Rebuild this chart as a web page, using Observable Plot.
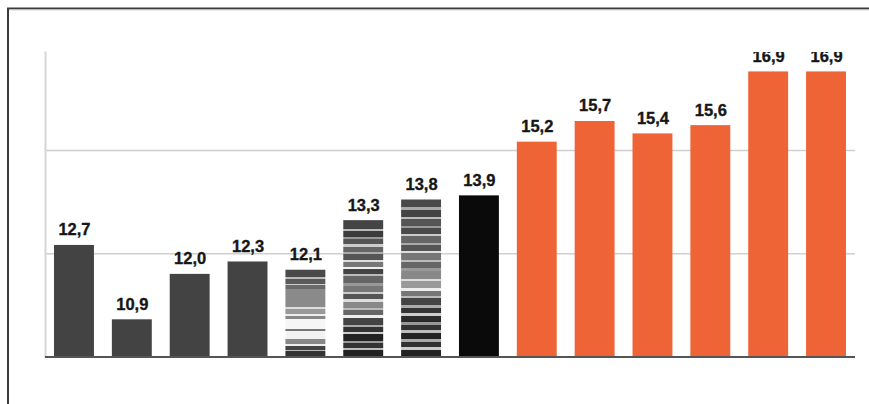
<!DOCTYPE html>
<html>
<head>
<meta charset="utf-8">
<script src="https://cdn.jsdelivr.net/npm/d3@7"></script>
<script src="https://cdn.jsdelivr.net/npm/@observablehq/plot@0.6"></script>
<style>
  html, body { margin: 0; padding: 0; background: #fff; overflow: hidden; }
  #wrap { width: 869px; height: 404px; overflow: hidden; }
  #wrap svg { display: block; }
</style>
</head>
<body>
<div id="wrap"></div>
<script>
// ---- data ----
const categories = ["b1","b2","b3","b4","b5","b6","b7","b8","b9","b10","b11","b12","b13","b14"];
const values = [12.7, 10.9, 12.0, 12.3, 12.1, 13.3, 13.8, 13.9, 15.2, 15.7, 15.4, 15.6, 16.9, 16.9];
const groups = ["dark","dark","dark","dark","stripeA","stripeB","stripeC","black",
                "orange","orange","orange","orange","orange","orange"];
const gridValues = [12.5, 15];

const data = categories.map((c, i) => ({cat: c, value: values[i], group: groups[i]}));

// ---- styles ----
const fills = {
  dark: "#434343",
  black: "#0a0a0a",
  orange: "#ef6436",
  stripeA: "url(#stripeA)",
  stripeB: "url(#stripeB)",
  stripeC: "url(#stripeC)"
};
const stripeStyles = {
  stripeA: [["#4a4a4a",7],["#bbb",2],["#5a5a5a",5],["#ccc",1.5],["#6a6a6a",4],["#8a8a8a",17],["#ddd",2],["#999",5],["#eee",2.5],["#888",3],["#f6f6f6",10],["#777",2],["#f2f2f2",8],["#888",5],["#eee",2],["#444",3.5],["#bbb",1.5],["#333",5]],
  stripeB: [["#444",8],["#bbb",2],["#3c3c3c",6],["#999",2],["#555",5],["#ccc",2],["#666",5],["#aaa",2],["#555",6],["#ddd",2],["#777",4],["#eee",2],["#444",5],["#bbb",2],["#666",6],["#999",3],["#777",6],["#ccc",2],["#555",5],["#ddd",2],["#888",6],["#bbb",2],["#666",5],["#eee",3],["#444",6],["#aaa",2],["#333",5],["#ccc",2],["#222",6],["#999",2],["#333",5],["#bbb",2],["#222",6]],
  stripeC: [["#4a4a4a",7],["#aaa",2],["#444",6],["#bbb",2],["#555",6],["#999",2],["#4a4a4a",5],["#ccc",2],["#666",6],["#aaa",2],["#555",5],["#ddd",2],["#777",6],["#bbb",2],["#666",5],["#999",3],["#888",7],["#ddd",2],["#999",6],["#eee",2],["#777",5],["#bbb",2],["#444",6],["#aaa",2],["#333",5],["#ccc",2],["#2a2a2a",6],["#999",2],["#333",5],["#bbb",2],["#222",6],["#aaa",2],["#333",5],["#ccc",2],["#222",6]]
};

const chart = Plot.plot({
  width: 869,
  height: 404,
  marginLeft: 45,
  marginRight: 14,
  marginTop: 52,
  marginBottom: 47.5,
  style: {fontFamily: "'Liberation Sans', Arial, sans-serif", background: "#fff"},
  x: {domain: categories, axis: null, paddingInner: 0.31, paddingOuter: 0.156, round: false},
  y: {domain: [10, 17.37], axis: null},
  marks: [
    Plot.ruleY(gridValues, {stroke: "#cfcfcf", strokeWidth: 1.5}),
    Plot.frame({anchor: "left", stroke: "#d6d6d6", strokeWidth: 2}),
    Plot.barY(data, {x: "cat", y1: 10, y2: "value", fill: d => fills[d.group]}),
    Plot.ruleY([10], {stroke: "#555", strokeWidth: 2}),
    Plot.text(data, {
      x: "cat", y: "value",
      text: d => d.value.toFixed(1).replace(".", ","),
      dy: -10, lineAnchor: "bottom",
      fontSize: 16.5, fontWeight: "bold", fill: "#161616",
      stroke: "#161616", strokeWidth: 0.35,
      clip: true
    })
  ]
});

const svg = d3.select(chart);

// stripe gradients for the patterned bars
const defs = svg.insert("defs", ":first-child");
for (const [id, stripes] of Object.entries(stripeStyles)) {
  const total = d3.sum(stripes, s => s[1]);
  const g = defs.append("linearGradient").attr("id", id)
    .attr("x1", 0).attr("y1", 0).attr("x2", 0).attr("y2", 1);
  let acc = 0;
  for (const [color, w] of stripes) {
    g.append("stop").attr("offset", acc / total).attr("stop-color", color);
    acc += w;
    g.append("stop").attr("offset", acc / total).attr("stop-color", color);
  }
}

// picture border (top and left edges of the cropped frame)
const border = svg.append("g").attr("fill", "none");
border.append("path").attr("d", "M8,404V8.5H869").attr("stroke", "#3a3a3a").attr("stroke-width", 2);
border.append("path").attr("d", "M9.5,10H869").attr("stroke", "#d8d8d8").attr("stroke-width", 1);

document.getElementById("wrap").appendChild(chart);
</script>
</body>
</html>
